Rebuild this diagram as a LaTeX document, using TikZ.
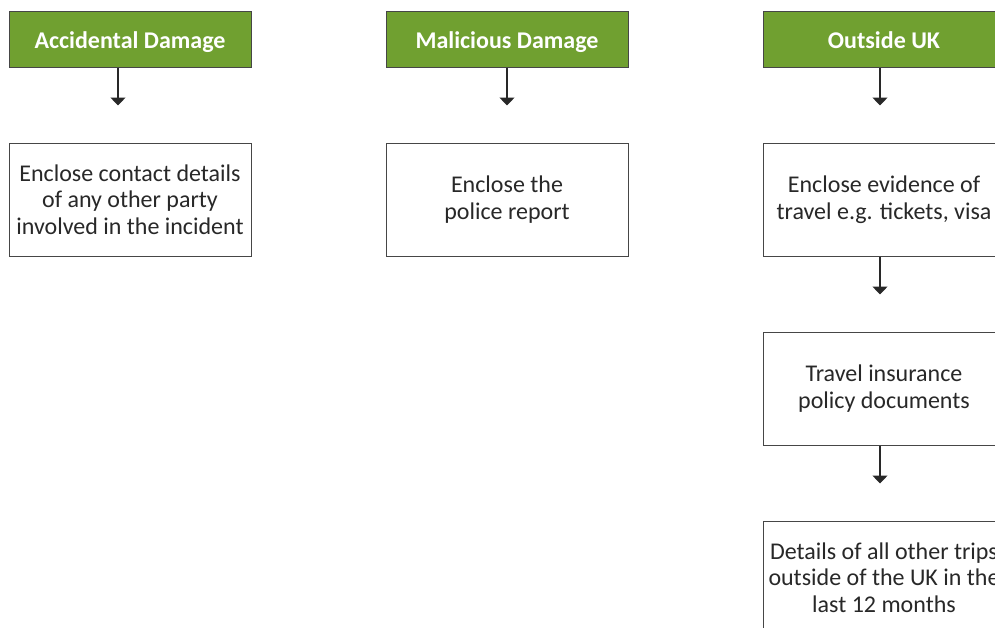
\documentclass[tikz,border=0pt]{standalone}
\usepackage{fontspec}
\setmainfont{Carlito}
\usetikzlibrary{arrows.meta, positioning}

\definecolor{hdgreen}{RGB}{112,160,48}
\definecolor{edgegray}{RGB}{70,70,70}
\definecolor{txtgray}{RGB}{40,40,40}

\begin{document}
\begin{tikzpicture}[
            x = 1pt, y = -1pt, % one unit per pixel, y going down
            > = {Triangle[width=15pt, length=8pt]}, % arrow head style
            node distance = 160.5pt, % header to first box
            line width = 1pt % line style
        ]

        \tikzstyle{header}=[
            draw = edgegray,
            fill = hdgreen,
            text = white,
            font = \bfseries\fontsize{24}{26}\selectfont,
            text height = 20pt,
            text depth = 2pt,
            minimum width = 242pt,
            minimum height = 56pt,
            inner sep = 0pt
        ]
        \tikzstyle{docbox}=[
            draw = edgegray,
            fill = white,
            text = txtgray,
            align = center,
            font = \fontsize{24}{26.5}\selectfont,
            minimum width = 242pt,
            minimum height = 113pt,
            inner sep = 0pt
        ]
        \tikzstyle{flow}=[->, draw = txtgray, line width = 1.3pt]

        \useasboundingbox (0,0) rectangle (995,627);

        \node[header] (accHead) at (130,39) {Accidental Damage};
        \node[header] (malHead) at (507,39) {Malicious Damage};
        \node[header] (outHead) at (884,39) {Outside UK};

        \node[docbox] (accDoc) [below of=accHead] {Enclose contact details\\of any other party\\involved in the incident};
        \node[docbox] (malDoc) [below of=malHead] {Enclose the\\police report};
        \node[docbox] (outDoc) [below of=outHead] {Enclose evidence of\\travel e.g. tickets, visa};
        \node[docbox] (insDoc) [below of=outDoc, node distance=189pt] {Travel insurance\\policy documents};
        \node[docbox] (tripDoc) [below of=insDoc, node distance=189pt] {Details of all other trips\\outside of the UK in the\\last 12 months};

        % arrows stop short of the next box
        \coordinate (accTip) at ([xshift=-12pt, yshift=-38pt]accHead.south);
        \coordinate (malTip) at ([yshift=-38pt]malHead.south);
        \coordinate (outTip) at ([xshift=-4pt, yshift=-38pt]outHead.south);
        \coordinate (docTip) at ([xshift=-4pt, yshift=-38pt]outDoc.south);
        \coordinate (insTip) at ([xshift=-4pt, yshift=-38pt]insDoc.south);

        \path[flow] ([xshift=-12pt]accHead.south) -- (accTip);
        \path[flow] (malHead.south) -- (malTip);
        \path[flow] ([xshift=-4pt]outHead.south) -- (outTip);
        \path[flow] ([xshift=-4pt]outDoc.south) -- (docTip);
        \path[flow] ([xshift=-4pt]insDoc.south) -- (insTip);

    \end{tikzpicture}
\end{document}
